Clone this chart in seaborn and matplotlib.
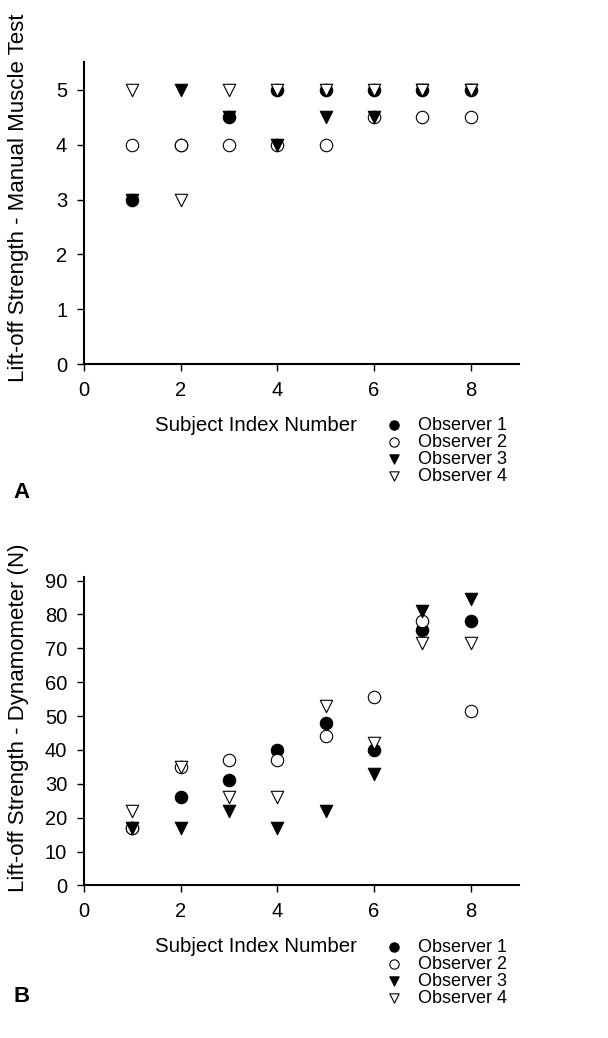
import pandas as pd
import seaborn as sns
import matplotlib.pyplot as plt

subjects = [1, 2, 3, 4, 5, 6, 7, 8]
observers = ['Observer 1', 'Observer 2', 'Observer 3', 'Observer 4']

# manual muscle test grades (panel A)
mmt_obs1 = [3, 4, 4.5, 5, 5, 5, 5, 5]
mmt_obs2 = [4, 4, 4, 4, 4, 4.5, 4.5, 4.5]
mmt_obs3 = [3, 5, 4.5, 4, 4.5, 4.5, 5, 5]
mmt_obs4 = [5, 3, 5, 5, 5, 5, 5, 5]

# dynamometer readings in N (panel B)
dyn_obs1 = [17, 26, 31, 40, 48, 40, 75.5, 78]
dyn_obs2 = [17, 35, 37, 37, 44, 55.5, 78, 51.5]
dyn_obs3 = [17, 17, 22, 17, 22, 33, 81, 84.5]
dyn_obs4 = [22, 35, 26, 26, 53, 42, 71.5, 71.5]

markers = ['o', 'o', 'v', 'v']
faces = ['black', 'white', 'black', 'white']

sns.set_style('ticks')
plt.rcParams['font.family'] = ['Liberation Sans', 'DejaVu Sans']
plt.rcParams['text.color'] = 'black'
plt.rcParams['axes.labelcolor'] = 'black'


def long_table(cols):
    rows = []
    for obs, vals in zip(observers, cols):
        for s, v in zip(subjects, vals):
            rows.append({'subject': s, 'value': v, 'observer': obs})
    return pd.DataFrame(rows)


mmt = long_table([mmt_obs1, mmt_obs2, mmt_obs3, mmt_obs4])
dyn = long_table([dyn_obs1, dyn_obs2, dyn_obs3, dyn_obs4])

fig = plt.figure(figsize=(6.08, 10.38), dpi=100)
axA = fig.add_axes([0.138, 0.649, 0.716, 0.291])
axB = fig.add_axes([0.138, 0.147, 0.716, 0.297])


def draw(ax, df, ylim, yticks, ylabel, ylab_y, xlab_y, leg_top, letter, letter_y):
    for obs, m, fc in zip(observers, markers, faces):
        sub = df[df['observer'] == obs]
        sns.scatterplot(data=sub, x='subject', y='value', ax=ax, marker=m,
                        facecolor=fc, edgecolor='black', linewidth=0.8,
                        s=80, label=obs, zorder=3)
    ax.set_xlim(0, 9)
    ax.set_ylim(*ylim)
    ax.set_xticks([0, 2, 4, 6, 8])
    ax.set_yticks(yticks)
    ax.tick_params(labelsize=14.5, length=5, width=1, pad=7, colors='black')
    ax.set_xlabel('')
    ax.set_ylabel(ylabel, fontsize=16)
    ax.yaxis.set_label_coords(-0.125, ylab_y)
    sns.despine(ax=ax)
    for sp in ['left', 'bottom']:
        ax.spines[sp].set_linewidth(1.5)
        ax.spines[sp].set_color('black')
    fig.text(256 / 608, xlab_y, 'Subject Index Number', fontsize=14.7,
             ha='center', va='center')
    h, l = ax.get_legend_handles_labels()
    ax.legend(h, l, loc='upper left', bbox_to_anchor=(0.619, leg_top),
              bbox_transform=fig.transFigure, frameon=False, fontsize=13,
              markerscale=0.75, handlelength=1.0, handletextpad=0.82,
              labelspacing=0.0, borderpad=0)
    fig.text(0.022, letter_y, letter, fontsize=16, fontweight='bold',
             ha='left', va='center')


draw(axA, mmt, (0, 5.5), [0, 1, 2, 3, 4, 5],
     'Lift-off Strength - Manual Muscle Test', 0.553, 1 - 425 / 1038,
     1 - 408 / 1038, 'A', 1 - 492 / 1038)
draw(axB, dyn, (0, 91), list(range(0, 91, 10)),
     'Lift-off Strength - Dynamometer (N)', 0.545, 1 - 946 / 1038,
     1 - 930 / 1038, 'B', 1 - 997 / 1038)

fig.savefig('out.png', dpi=100)
